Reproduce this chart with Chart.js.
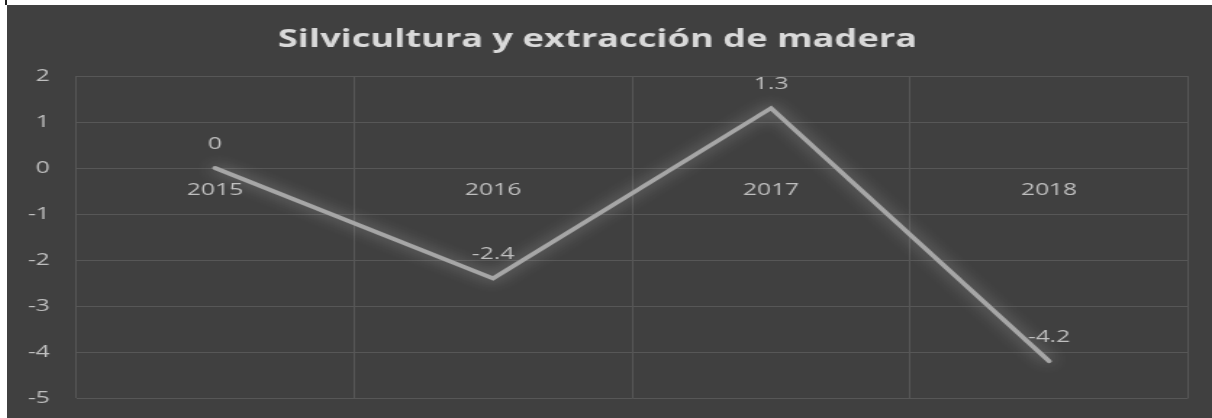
<!DOCTYPE html>
<html>
<head>
<meta charset="utf-8">
<script src="https://cdn.jsdelivr.net/npm/chart.js@4"></script>
<style>
    html, body { margin: 0; padding: 0; background: #fff; overflow: hidden; }
    #marca { position: absolute; left: 5px; top: 0; width: 2px; height: 5px; background: #222; }
    #marco { position: absolute; left: 7px; top: 5px; width: 1205px; height: 413px; background: #404040; overflow: hidden; }
    #grafico { position: absolute; left: 0; top: 0; transform-origin: 0 0; }
</style>
</head>
<body>
<div id="marca"></div>
<div id="marco"><canvas id="grafico"></canvas></div>
<script>
const anios = ["2015", "2016", "2017", "2018"];
const variacion = [0, -2.4, 1.3, -4.2];
const ejeY = { min: -5, max: 2, paso: 1 };

// el grafico se dibuja angosto y se estira a lo ancho
const ESTIRAR = 1.45;
const ANCHO = 1205, ALTO = 413;
const canvas = document.getElementById("grafico");
canvas.width = Math.round(ANCHO / ESTIRAR);
canvas.height = ALTO;
canvas.style.width = canvas.width + "px";
canvas.style.height = ALTO + "px";
canvas.style.transform = "scaleX(" + (ANCHO / canvas.width) + ")";

const izq = 69 / ESTIRAR;          // borde izquierdo del area de trazado
const der = canvas.width - 1181 / ESTIRAR;

const fuente = "'Open Sans', 'DejaVu Sans', sans-serif";
const gris = "#bfbfbf";
const rejilla = "#575757";

// brillo alrededor de la linea
const brillo = {
    id: "brillo",
    beforeDatasetDraw(chart) {
        const c = chart.ctx;
        c.save();
        c.shadowColor = "rgba(255,255,255,0.45)";
        c.shadowBlur = 14;
    },
    afterDatasetDraw(chart) {
        chart.ctx.restore();
    }
};

// etiquetas de valor encima de cada punto
const etiquetas = {
    id: "etiquetas",
    afterDatasetsDraw(chart) {
        const c = chart.ctx;
        const meta = chart.getDatasetMeta(0);
        c.save();
        c.font = "17px " + fuente;
        c.fillStyle = gris;
        c.textAlign = "center";
        c.textBaseline = "middle";
        meta.data.forEach((p, i) => {
            c.fillText(String(chart.data.datasets[0].data[i]), p.x, p.y - 24);
        });
        c.restore();
    }
};

new Chart(canvas.getContext("2d"), {
    type: "line",
    data: {
        labels: anios,
        datasets: [{
            data: variacion,
            borderColor: "#a6a6a6",
            borderWidth: 3.8,
            borderCapStyle: "round",
            borderJoinStyle: "miter",
            pointRadius: 0,
            tension: 0,
            fill: false
        }]
    },
    options: {
        responsive: false,
        animation: false,
        events: [],
        layout: { padding: { top: 0, left: 0, right: der, bottom: 20 } },
        plugins: {
            legend: { display: false },
            tooltip: { enabled: false },
            title: {
                display: true,
                text: "Silvicultura y extracción de madera",
                color: "#d9d9d9",
                font: { family: fuente, size: 25, weight: "bold" },
                padding: { top: 20, bottom: 21 }
            }
        },
        scales: {
            x: {
                position: { y: 0 },
                offset: true,
                grid: { color: rejilla, lineWidth: 1, offset: true, drawTicks: false },
                border: { display: false },
                ticks: { color: gris, font: { family: fuente, size: 17 }, padding: 12, maxRotation: 0 },
                afterFit(s) {
                    s.height = 0;
                    s.paddingTop = 0;
                    s.paddingBottom = 0;
                }
            },
            y: {
                min: ejeY.min,
                max: ejeY.max,
                grid: { color: rejilla, lineWidth: 1, drawTicks: false },
                border: { display: false },
                ticks: { stepSize: ejeY.paso, color: gris, font: { family: fuente, size: 17 }, padding: 18 },
                afterFit(s) {
                    s.width = izq;
                    s.paddingBottom = 0;
                }
            }
        }
    },
    plugins: [brillo, etiquetas]
});
</script>
</body>
</html>
